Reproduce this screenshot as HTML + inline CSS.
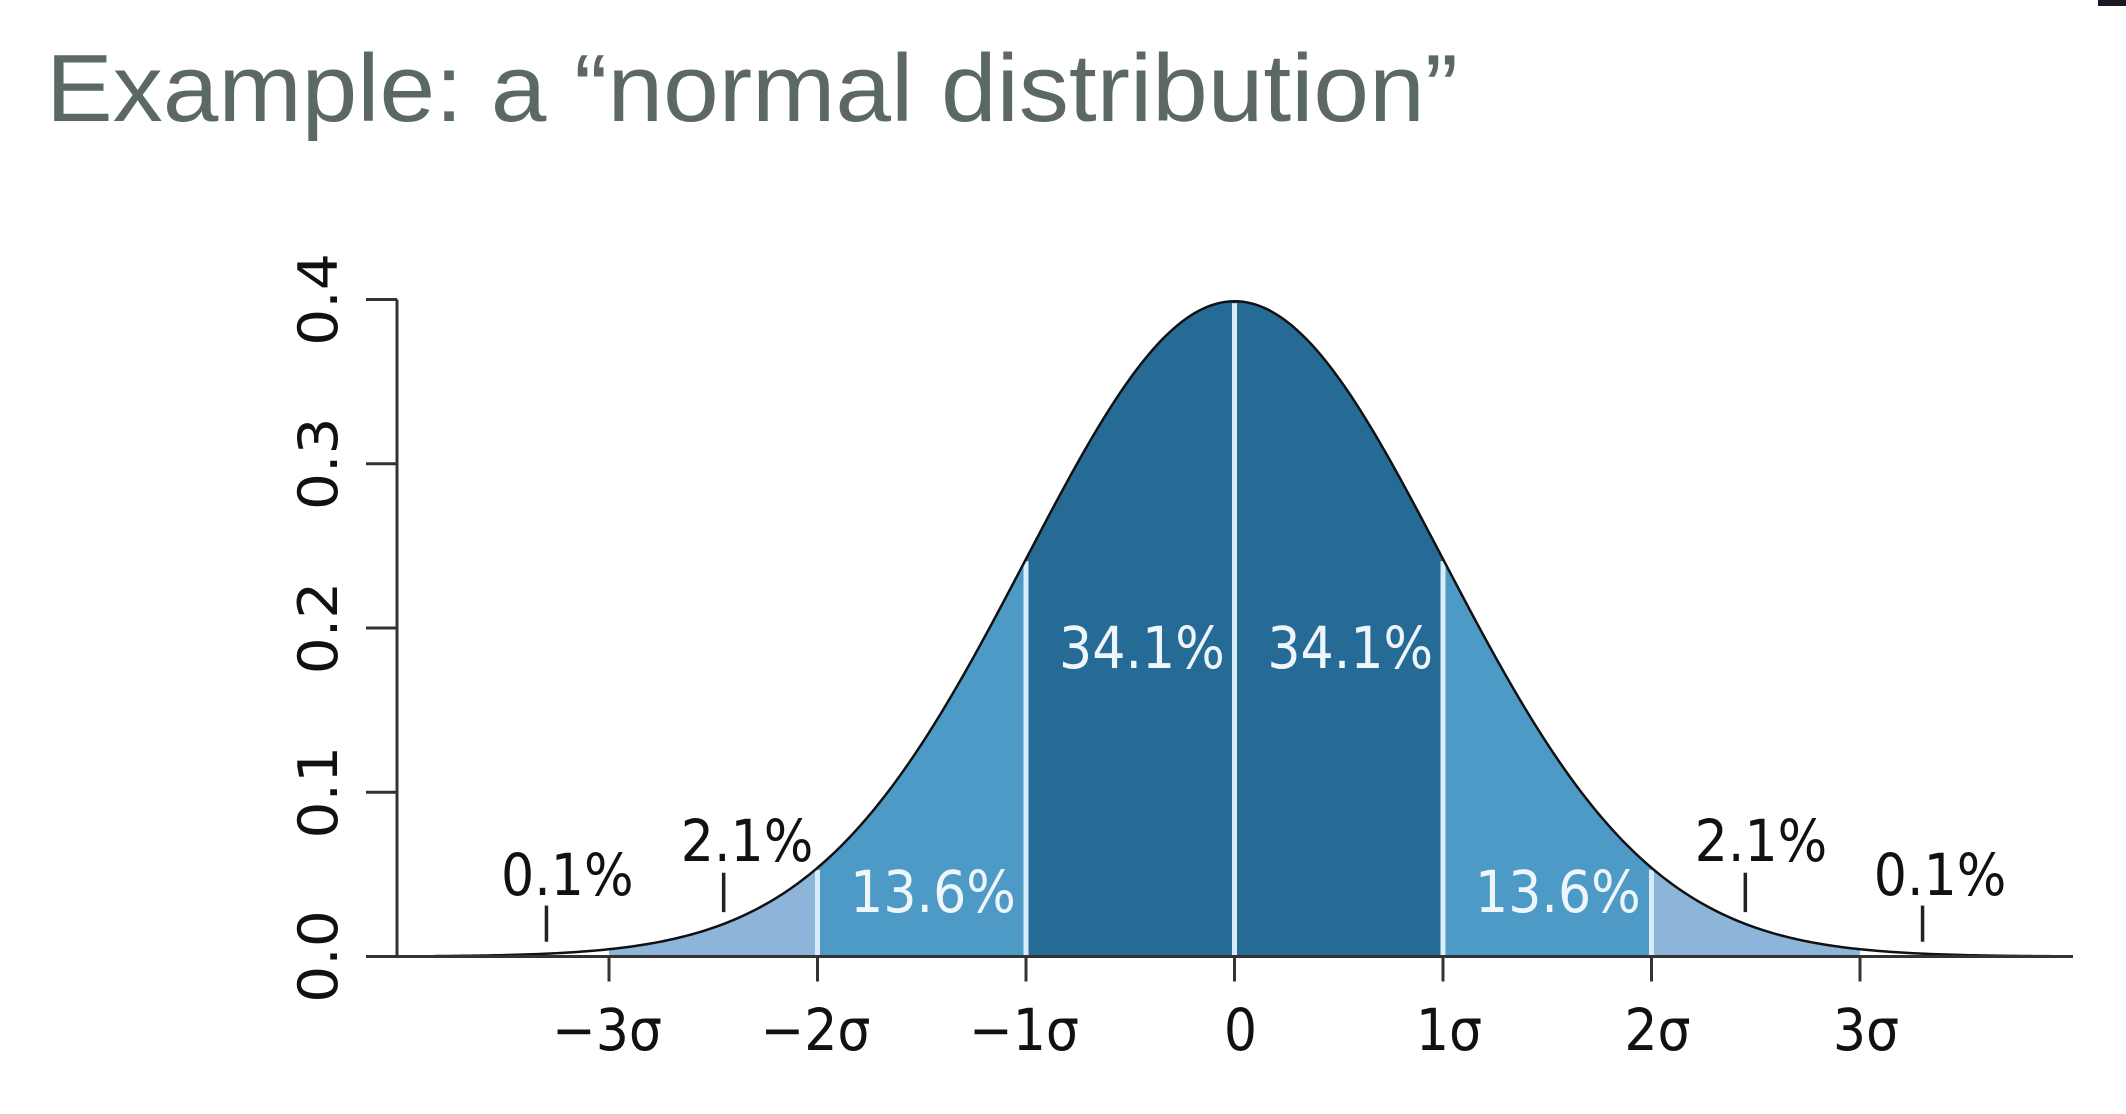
<!DOCTYPE html>
<html><head><meta charset="utf-8">
<style>
html,body{margin:0;padding:0;background:#fff;}
svg{display:block;}
</style></head>
<body>
<svg id="chart" width="2126" height="1114" viewBox="0 0 2126 1114" xmlns="http://www.w3.org/2000/svg">
<rect x="2098" y="0" width="28" height="6" fill="#1a1a22"/>
<text x="46" y="121" font-family="Liberation Sans, sans-serif" font-size="96" fill="#5c6865" textLength="1412" lengthAdjust="spacingAndGlyphs">Example: a “normal distribution”</text>
<g id="plot"></g>
</svg>
<script>
const sigmaTicks = [-3,-2,-1,0,1,2,3];
const sigmaLabels = ["−3σ","−2σ","−1σ","0","1σ","2σ","3σ"];
const yTicks = [0.0,0.1,0.2,0.3,0.4];
const yTickLabels = ["0.0","0.1","0.2","0.3","0.4"];
const bandEdges = [-3,-2,-1,0,1,2,3];
const bandColors = ["#8db4d9","#4c9ac5","#266b96","#266b96","#4c9ac5","#8db4d9"];
const regionLabels = ["0.1%","2.1%","13.6%","34.1%","34.1%","13.6%","2.1%","0.1%"];
const regionLabelX = [-3.2,-2.338,-1.446,-0.444,0.555,1.551,2.525,3.384];
const regionLabelY = [0.0374,0.058,0.0270,0.1756,0.1756,0.0270,0.058,0.0374];
const regionLabelWhite = [false,false,true,true,true,true,false,false];
const markerX = [-3.3,-2.45,2.45,3.3];
const markerY0 = [0.009,0.027,0.027,0.009];
const markerY1 = [0.031,0.051,0.051,0.031];
const mu = 0, sd = 1, xMax = 4.0;

const NS = "http://www.w3.org/2000/svg";
const g = document.getElementById("plot");
const X0 = 1234.5, SX = 208.5, Y0 = 956.5, SY = 1642.5;
const xs = v => X0 + v*SX;
const ys = v => Y0 - v*SY;
const pdf = x => Math.exp(-0.5*((x-mu)/sd)**2)/(sd*Math.sqrt(2*Math.PI));
function el(tag, attrs){ const e=document.createElementNS(NS,tag); for(const k in attrs) e.setAttribute(k,attrs[k]); g.appendChild(e); return e; }

for(let i=0;i<bandEdges.length-1;i++){
  const a=bandEdges[i], b=bandEdges[i+1];
  let d=`M${xs(a)},${ys(0)}`;
  for(let k=0;k<=60;k++){const x=a+(b-a)*k/60; d+=` L${xs(x)},${ys(pdf(x))}`;}
  d+=` L${xs(b)},${ys(0)} Z`;
  const p=el("path",{d:d,fill:bandColors[i]});
  
  
}
for(let i=1;i<bandEdges.length-1;i++){
  const b=bandEdges[i];
  const l=el("line",{x1:xs(b),x2:xs(b),y1:ys(0),y2:ys(pdf(b))+2,stroke:"#d8ecfa","stroke-width":5});
  
  
}
let cd="";
for(let k=0;k<=400;k++){const x=-3.84+(xMax+3.84)*k/400; cd+=(k?" L":"M")+xs(x)+","+ys(pdf(x));}
const curve=el("path",{d:cd,fill:"none",stroke:"#111","stroke-width":2.5});


const xa=el("line",{x1:397,x2:2073,y1:Y0,y2:Y0,stroke:"#333","stroke-width":3});


const ya=el("line",{x1:397,x2:397,y1:ys(0.4),y2:Y0,stroke:"#333","stroke-width":3});


sigmaTicks.forEach((s,i)=>{
  const t=el("line",{x1:xs(s),x2:xs(s),y1:Y0,y2:Y0+25,stroke:"#333","stroke-width":3});
  
  
  const cx = xs(s)+(sigmaLabels[i].startsWith("−")?-2:6);
  const tx=el("text",{x:0,y:0,"font-family":"DejaVu Sans, sans-serif","font-size":58,fill:"#111","text-anchor":"middle",transform:`translate(${cx},1050) scale(0.9,1)`});
  tx.textContent=sigmaLabels[i];
  
  
});
yTicks.forEach((v,i)=>{
  const t=el("line",{x1:366,x2:397,y1:ys(v),y2:ys(v),stroke:"#333","stroke-width":3});
  
  
  const tx=el("text",{x:0,y:0,"font-family":"DejaVu Sans, sans-serif","font-size":54,fill:"#111","text-anchor":"middle",transform:`translate(337,${ys(v)}) rotate(-90) scale(1.08,1)`});
  tx.textContent=yTickLabels[i];
  
  
});
markerX.forEach((m,i)=>{
  const t=el("line",{x1:xs(m),x2:xs(m),y1:ys(markerY0[i]),y2:ys(markerY1[i]),stroke:"#222","stroke-width":3.5});
  
  
});
regionLabels.forEach((s,i)=>{
  const tx=el("text",{x:0,y:0,"font-family":"DejaVu Sans, sans-serif","font-size":58,fill:regionLabelWhite[i]?"#eef6fc":"#111","text-anchor":"middle",transform:`translate(${xs(regionLabelX[i])},${ys(regionLabelY[i])}) scale(0.9,1)`});
  tx.textContent=s;
  
  
});
</script>
</body></html>
